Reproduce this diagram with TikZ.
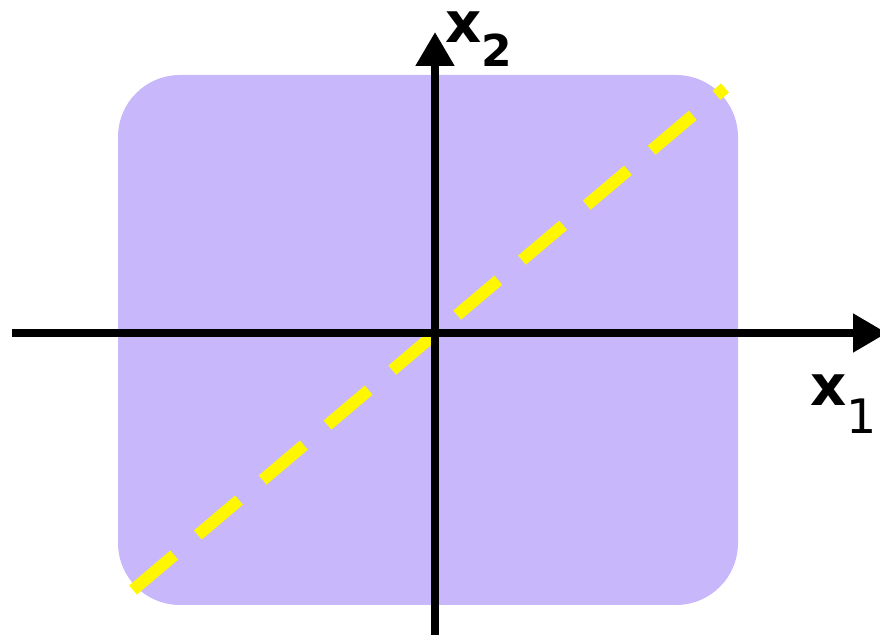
\documentclass[tikz,border=0pt]{standalone}
\usepackage{fontspec}
\setmainfont{DejaVu Sans}
\usetikzlibrary{arrows.meta}
\definecolor{regionpurple}{HTML}{C8B8FB}
\definecolor{lineyellow}{HTML}{FFF700}
\tikzset{
  axis/.style={line width=0.08cm, -{Triangle[length=0.34cm, width=0.37cm]}},
  axislabel/.style={inner sep=0pt, font=\fontsize{16}{16}\selectfont\bfseries}
}
\begin{document}
\begin{tikzpicture}
            \useasboundingbox (0, 0) rectangle (8.80, 6.35);

            % feasible region
            \fill[regionpurple, rounded corners=0.62cm] (1.18, 0.30) rectangle (7.38, 5.60);

            % dashed line through the origin
            \coordinate (dl) at (1.33, 0.45);
            \coordinate (du) at (7.25, 5.47);
            \draw[lineyellow, line width=0.12cm, dash pattern=on 0.54cm off 0.31cm] (dl) -- (du);

            % axes
            \coordinate (xl) at (0.12, 3.02);
            \coordinate (xr) at (8.87, 3.02);
            \coordinate (yb) at (4.35, -0.05);
            \coordinate (yt) at (4.35, 6.03);
            \draw[axis] (xl) -- (xr);
            \draw[axis] (yb) -- (yt);

            \node[axislabel, anchor=base west] (lx2) at (4.45, 5.92) {x\raisebox{-0.24cm}{\fontsize{12.5}{12.5}\selectfont 2}};
            \node[axislabel, anchor=base west] (lx1) at (8.10, 2.29) {x\raisebox{-0.28cm}{\fontsize{13.5}{13.5}\selectfont\mdseries 1}};
        \end{tikzpicture}
\end{document}
